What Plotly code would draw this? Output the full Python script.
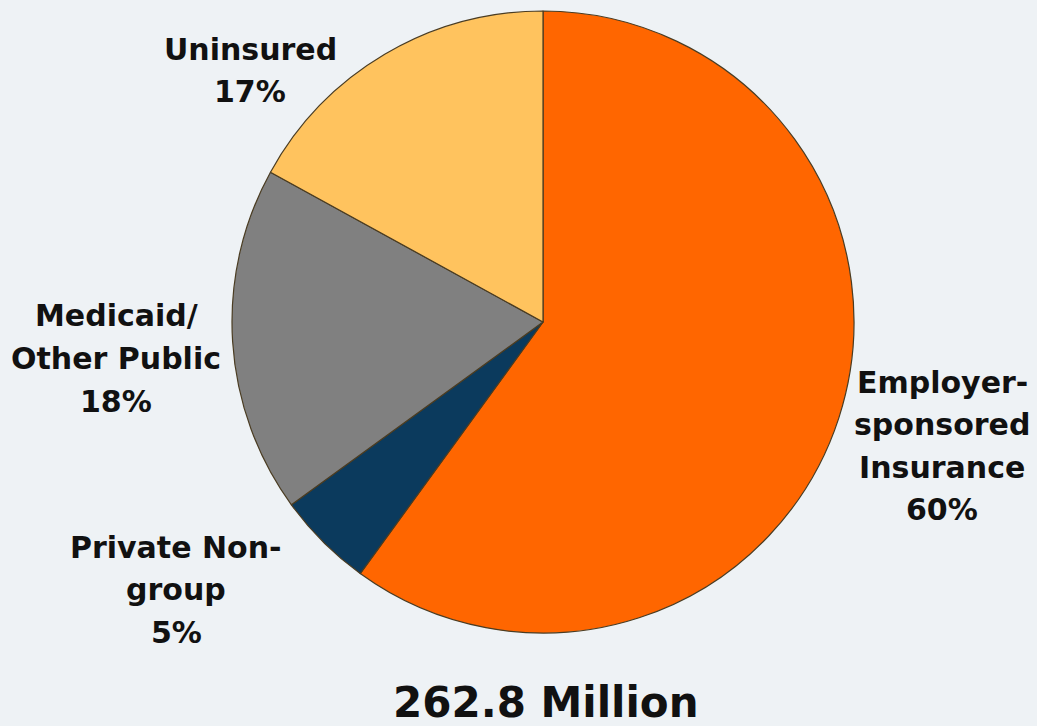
import plotly.graph_objects as go

categories = ["Employer-sponsored Insurance", "Private Non-group", "Medicaid/Other Public", "Uninsured"]
shares = [60, 5, 18, 17]
label_lines = [
    ["Employer-", "sponsored", "Insurance", "60%"],
    ["Private Non-", "group", "5%"],
    ["Medicaid/", "Other Public", "18%"],
    ["Uninsured", "17%"],
]
total_label = "262.8 Million"

slice_colors = ["#ff6600", "#0b3a5d", "#808080", "#ffc35e"]

W, H = 1037, 726
BG = "#eef2f5"
FONT = "Verdana, DejaVu Sans, sans-serif"

# pie geometry (pixels)
cx, cy, r = 543, 322, 311

fig = go.Figure(go.Pie(
    labels=categories,
    values=shares,
    sort=False,
    direction="clockwise",
    rotation=0,
    marker=dict(colors=slice_colors, line=dict(color="#4a3c22", width=1.2)),
    textinfo="none",
    hoverinfo="label+percent",
    showlegend=False,
    domain=dict(x=[(cx - r) / W, (cx + r) / W], y=[1 - (cy + r) / H, 1 - (cy - r) / H]),
))

# label block positions: (center x px, first baseline px, line spacing px)
label_pos = [(942, 393, 42.5), (176, 558, 42.5), (116, 326, 43), (250, 60, 42)]
fs = 30
annotations = []
for lines, (x, y0, dy) in zip(label_lines, label_pos):
    for i, t in enumerate(lines):
        yb = y0 + i * dy
        ymid = yb - 0.36 * fs
        annotations.append(dict(
            x=x / W, y=1 - ymid / H, xref="paper", yref="paper",
            text="<b>%s</b>" % t, showarrow=False, xanchor="center", yanchor="middle",
            font=dict(family=FONT, size=fs, color="#111111"),
        ))

tfs = 42
annotations.append(dict(
    x=546 / W, y=1 - (718 - 0.36 * tfs) / H, xref="paper", yref="paper",
    text="<b>%s</b>" % total_label, showarrow=False, xanchor="center", yanchor="middle",
    font=dict(family=FONT, size=tfs, color="#111111"),
))

fig.update_layout(
    width=W, height=H,
    margin=dict(l=0, r=0, t=0, b=0),
    paper_bgcolor=BG, plot_bgcolor=BG,
    annotations=annotations,
)

fig.write_html(
    "out.html",
    config={"displayModeBar": False},
    post_script="document.body.style.margin='0';document.body.style.background='%s';" % BG,
)
